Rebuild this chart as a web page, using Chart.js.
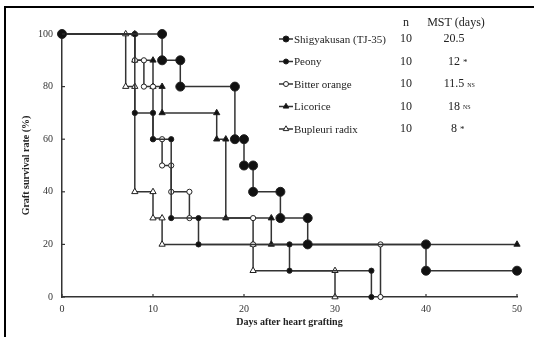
<!DOCTYPE html>
<html>
<head>
<meta charset="utf-8">
<script src="https://cdn.jsdelivr.net/npm/chart.js@4.4.1/dist/chart.umd.min.js"></script>
<style>
  html, body { margin: 0; padding: 0; background: #fff; }
  #wrap { position: relative; width: 534px; height: 337px; }
  #cadre { position: absolute; left: 4px; top: 6px; right: 0; bottom: 0; border-top: 2px solid #000; border-left: 2px solid #000; pointer-events: none; }
</style>
</head>
<body>
<div id="wrap">
  <canvas id="myChart" width="534" height="337"></canvas>
  <div id="cadre"></div>
</div>
<script>
// --- DONNÉES ---
const seriesNames = ['Shigyakusan (TJ-35)', 'Peony', 'Bitter orange', 'Licorice', 'Bupleuri radix'];
const nValues = [10, 10, 10, 10, 10];
const mstValues = ['20.5', '12', '11.5', '18', '8'];
const mstNotes = ['', '*', 'NS', 'NS', '*'];

// coins des courbes en escalier (jour, survie %)
const shigyakusanDays = [0, 11, 11, 13, 13, 19, 19, 20, 20, 21, 21, 24, 24, 27, 27, 40, 40, 50];
const shigyakusanSurv = [100, 100, 90, 90, 80, 80, 60, 60, 50, 50, 40, 40, 30, 30, 20, 20, 10, 10];
const peonyDays = [0, 8, 8, 10, 10, 12, 12, 15, 15, 25, 25, 34, 34];
const peonySurv = [100, 100, 70, 70, 60, 60, 30, 30, 20, 20, 10, 10, 0];
const bitterDays = [0, 8, 8, 9, 9, 10, 10, 11, 11, 12, 12, 14, 14, 21, 21, 35, 35];
const bitterSurv = [100, 100, 90, 90, 80, 80, 60, 60, 50, 50, 40, 40, 30, 30, 20, 20, 0];
const licoriceDays = [0, 8, 8, 10, 10, 11, 11, 17, 17, 18, 18, 23, 23, 50];
const licoriceSurv = [100, 100, 90, 90, 80, 80, 70, 70, 60, 60, 30, 30, 20, 20];
const bupleuriDays = [0, 7, 7, 8, 8, 10, 10, 11, 11, 21, 21, 30, 30];
const bupleuriSurv = [100, 100, 80, 80, 40, 40, 30, 30, 20, 20, 10, 10, 0];

const xTicks = [0, 10, 20, 30, 40, 50];
const yTicks = [0, 20, 40, 60, 80, 100];

const police = "'Liberation Serif', 'Times New Roman', serif";
const encre = '#222';

const styles = [
  { pointStyle: 'circle', radius: 4.5, bg: '#111', legRadius: 3 },
  { pointStyle: 'circle', radius: 2.6, bg: '#111', legRadius: 2.5 },
  { pointStyle: 'circle', radius: 2.6, bg: '#fff', legRadius: 2.5 },
  { pointStyle: 'triangle', radius: 3.6, bg: '#111', legRadius: 3.2 },
  { pointStyle: 'triangle', radius: 3.6, bg: '#fff', legRadius: 3.2 }
];

const zip = (xs, ys) => xs.map((x, i) => ({ x: x, y: ys[i] }));
const courbes = [
  zip(shigyakusanDays, shigyakusanSurv),
  zip(peonyDays, peonySurv),
  zip(bitterDays, bitterSurv),
  zip(licoriceDays, licoriceSurv),
  zip(bupleuriDays, bupleuriSurv)
];

// --- LÉGENDE EN TABLEAU + GRADUATIONS INTÉRIEURES ---
const legendePlugin = {
  id: 'legendeTableau',
  afterDraw(chart) {
    const ctx = chart.ctx;
    const xs = chart.scales.x, ys = chart.scales.y;
    const area = chart.chartArea;
    ctx.save();
    ctx.strokeStyle = '#333';
    ctx.lineWidth = 1.2;
    xTicks.forEach(v => {
      const px = xs.getPixelForValue(v);
      ctx.beginPath(); ctx.moveTo(px, area.bottom); ctx.lineTo(px, area.bottom - 3); ctx.stroke();
    });
    yTicks.forEach(v => {
      const py = ys.getPixelForValue(v);
      ctx.beginPath(); ctx.moveTo(area.left, py); ctx.lineTo(area.left + 3, py); ctx.stroke();
    });

    ctx.fillStyle = encre;
    ctx.textBaseline = 'middle';
    ctx.font = '12px ' + police;
    ctx.textAlign = 'center';
    ctx.fillText('n', 406, 23);
    ctx.fillText('MST (days)', 456, 23);

    seriesNames.forEach((nom, i) => {
      const y = 39 + i * 22.5;
      const st = styles[i];
      ctx.strokeStyle = '#333';
      ctx.lineWidth = 1.5;
      ctx.beginPath(); ctx.moveTo(279, y); ctx.lineTo(293, y); ctx.stroke();
      ctx.fillStyle = st.bg;
      ctx.strokeStyle = '#222';
      ctx.lineWidth = 1;
      Chart.helpers.drawPoint(ctx, { pointStyle: st.pointStyle, radius: st.legRadius, borderWidth: 1, rotation: 0 }, 286, y);

      ctx.fillStyle = encre;
      ctx.textAlign = 'left';
      ctx.font = '11px ' + police;
      ctx.fillText(nom, 294, y + 1);

      ctx.font = '12px ' + police;
      ctx.textAlign = 'center';
      ctx.fillText(String(nValues[i]), 406, y);
      ctx.fillText(mstValues[i], 454, y);
      if (mstNotes[i]) {
        const w = ctx.measureText(mstValues[i]).width;
        ctx.textAlign = 'left';
        ctx.font = (mstNotes[i] === '*' ? '9px ' : '6px ') + police;
        ctx.fillText(mstNotes[i], 454 + w / 2 + 3, y + 1);
      }
    });
    ctx.restore();
  }
};

const ctx = document.getElementById('myChart').getContext('2d');

const myChart = new Chart(ctx, {
  type: 'line',
  data: {
    datasets: courbes.map((data, i) => ({
      label: seriesNames[i],
      data: data,
      borderColor: '#333',
      borderWidth: 1.5,
      tension: 0,
      fill: false,
      clip: false,
      pointStyle: styles[i].pointStyle,
      pointRadius: styles[i].radius,
      pointBackgroundColor: styles[i].bg,
      pointBorderColor: '#222',
      pointBorderWidth: 1
    }))
  },
  options: {
    responsive: false,
    devicePixelRatio: 1,
    animation: false,
    layout: { padding: { left: 12, right: 17, top: 34, bottom: 6 } },
    plugins: { legend: { display: false }, tooltip: { enabled: false } },
    scales: {
      x: {
        type: 'linear', min: 0, max: 50,
        afterFit: s => { s.height = 34; },
        afterBuildTicks: s => { s.ticks = xTicks.map(v => ({ value: v })); },
        ticks: { padding: 6, maxRotation: 0, color: '#333', font: { family: police, size: 10 } },
        grid: { display: false, drawTicks: false },
        border: { display: true, color: '#333', width: 1.5 },
        title: {
          display: true, text: 'Days after heart grafting', color: encre,
          font: { family: police, size: 10, weight: 'bold' }, padding: { top: 0, bottom: 3 }
        }
      },
      y: {
        type: 'linear', min: 0, max: 100,
        afterFit: s => { s.width = 50; },
        afterBuildTicks: s => { s.ticks = yTicks.map(v => ({ value: v })); },
        ticks: { padding: 9, color: '#333', font: { family: police, size: 10 } },
        grid: { display: false, drawTicks: false },
        border: { display: true, color: '#333', width: 1.5 },
        title: {
          display: true, text: 'Graft survival rate (%)', color: encre,
          font: { family: police, size: 10, weight: 'bold' }, padding: { top: 8, bottom: 0 }
        }
      }
    }
  },
  plugins: [legendePlugin]
});
</script>
</body>
</html>
